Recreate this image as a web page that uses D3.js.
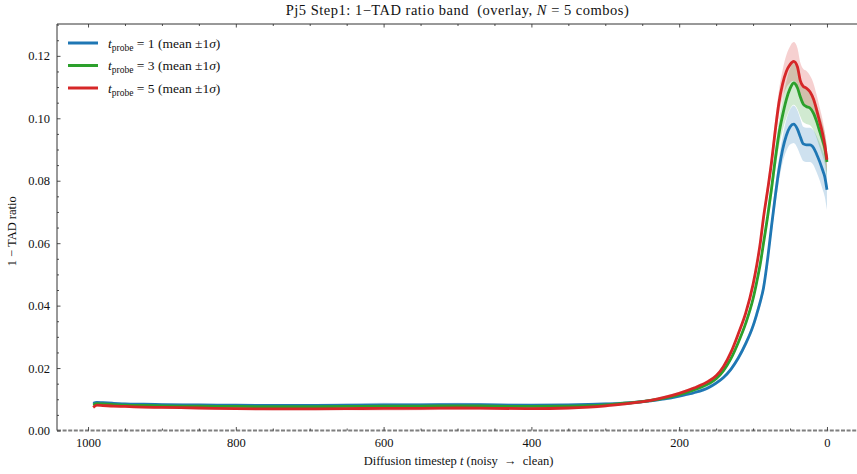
<!DOCTYPE html>
<html>
<head>
<meta charset="utf-8">
<script src="https://cdn.jsdelivr.net/npm/d3@7"></script>
<style>
  html, body { margin: 0; padding: 0; background: #fff; }
  svg { display: block; font-family: "Liberation Serif", "DejaVu Serif", serif; }
</style>
</head>
<body>
<svg id="chart" width="857" height="474"></svg>
<script>
// Diffusion timesteps (noisy -> clean)
const timesteps = [993, 988, 980, 965, 950, 925, 900, 850, 800, 750, 700, 650, 600, 550, 500, 450, 400, 350, 300,
  280, 260, 240, 220, 200, 180, 160, 150, 140, 130, 120, 110, 100, 95, 90, 86, 80, 75, 70, 65, 60, 55, 50, 45, 40,
  36, 32, 28, 23, 18, 14, 10, 6, 3, 0];

// mean 1-TAD ratio per probe setting
const meanProbe1 = [0.0087, 0.0090, 0.0089, 0.0087, 0.0085, 0.0084, 0.0083, 0.0082, 0.0081, 0.0080, 0.0080, 0.0081, 0.0082, 0.0082, 0.0083, 0.0082, 0.0081, 0.0082, 0.0085,
  0.0087, 0.0090, 0.0095, 0.0101, 0.0110, 0.0121, 0.0138, 0.0152, 0.0170, 0.0196, 0.0232, 0.0278, 0.0335, 0.0373, 0.0415, 0.0455, 0.0555, 0.0655, 0.0750, 0.0835, 0.0900, 0.0945, 0.0972, 0.0981, 0.0965,
  0.0940, 0.0918, 0.0915, 0.0915, 0.0905, 0.0885, 0.0862, 0.0835, 0.0813, 0.0771];
const meanProbe3 = [0.0082, 0.0086, 0.0085, 0.0083, 0.0081, 0.0080, 0.0079, 0.0078, 0.0077, 0.0076, 0.0076, 0.0077, 0.0078, 0.0078, 0.0079, 0.0078, 0.0077, 0.0078, 0.0082,
  0.0086, 0.0090, 0.0096, 0.0104, 0.0115, 0.0130, 0.0150, 0.0166, 0.0192, 0.0230, 0.0282, 0.0343, 0.0422, 0.0476, 0.0537, 0.0598, 0.0690, 0.0775, 0.0868, 0.0950, 0.1010, 0.1060, 0.1095, 0.1113, 0.1098,
  0.1068, 0.1045, 0.1038, 0.1033, 0.1015, 0.0990, 0.0960, 0.0930, 0.0905, 0.0860];
const meanProbe5 = [0.0074, 0.0081, 0.0080, 0.0078, 0.0077, 0.0075, 0.0074, 0.0072, 0.0070, 0.0069, 0.0069, 0.0070, 0.0071, 0.0071, 0.0072, 0.0071, 0.0070, 0.0072, 0.0079,
  0.0084, 0.0089, 0.0096, 0.0106, 0.0119, 0.0136, 0.0158, 0.0175, 0.0205, 0.0250, 0.0310, 0.0376, 0.0468, 0.0530, 0.0605, 0.0680, 0.0775, 0.0860, 0.0960, 0.1050, 0.1110, 0.1150, 0.1172, 0.1182, 0.1165,
  0.1120, 0.1102, 0.1097, 0.1085, 0.1060, 0.1027, 0.0990, 0.0952, 0.0915, 0.0867];

// standard deviation across the N = 5 combos
const sdProbe1 = [0.0004, 0.0004, 0.0004, 0.0004, 0.0004, 0.0004, 0.0004, 0.0004, 0.0004, 0.0004, 0.0004, 0.0005, 0.0007, 0.0006, 0.0006, 0.0005, 0.0004, 0.0004, 0.0005,
  0.0005, 0.0005, 0.0005, 0.0005, 0.0005, 0.0005, 0.0006, 0.0006, 0.0006, 0.0007, 0.0008, 0.0010, 0.0012, 0.0014, 0.0016, 0.0018, 0.0022, 0.0027, 0.0032, 0.0037, 0.0042, 0.0050, 0.0056, 0.0060, 0.0060,
  0.0058, 0.0055, 0.0055, 0.0055, 0.0056, 0.0058, 0.0060, 0.0062, 0.0064, 0.0065];
const sdProbe3 = [0.0004, 0.0004, 0.0004, 0.0004, 0.0004, 0.0004, 0.0004, 0.0004, 0.0004, 0.0004, 0.0004, 0.0005, 0.0006, 0.0006, 0.0006, 0.0005, 0.0004, 0.0004, 0.0005,
  0.0005, 0.0005, 0.0005, 0.0005, 0.0005, 0.0005, 0.0006, 0.0006, 0.0006, 0.0007, 0.0008, 0.0010, 0.0012, 0.0014, 0.0016, 0.0019, 0.0024, 0.0030, 0.0036, 0.0042, 0.0050, 0.0058, 0.0065, 0.0070, 0.0068,
  0.0062, 0.0058, 0.0056, 0.0055, 0.0054, 0.0053, 0.0052, 0.0051, 0.0050, 0.0050];
const sdProbe5 = [0.0004, 0.0004, 0.0004, 0.0004, 0.0004, 0.0004, 0.0004, 0.0004, 0.0004, 0.0004, 0.0004, 0.0005, 0.0007, 0.0006, 0.0006, 0.0005, 0.0004, 0.0004, 0.0005,
  0.0005, 0.0005, 0.0005, 0.0005, 0.0005, 0.0005, 0.0006, 0.0006, 0.0006, 0.0007, 0.0008, 0.0010, 0.0012, 0.0015, 0.0018, 0.0021, 0.0025, 0.0030, 0.0035, 0.0040, 0.0045, 0.0052, 0.0058, 0.0062, 0.0060,
  0.0058, 0.0056, 0.0055, 0.0052, 0.0050, 0.0048, 0.0046, 0.0044, 0.0042, 0.0040];

const probeLabels = ["1", "3", "5"];
const probeColors = ["#1f77b4", "#2ca02c", "#d62728"];
const xTicks = [1000, 800, 600, 400, 200, 0];
const yTicks = [0.00, 0.02, 0.04, 0.06, 0.08, 0.10, 0.12];

const seriesList = [
  { label: probeLabels[0], color: probeColors[0], mean: meanProbe1, sd: sdProbe1 },
  { label: probeLabels[1], color: probeColors[1], mean: meanProbe3, sd: sdProbe3 },
  { label: probeLabels[2], color: probeColors[2], mean: meanProbe5, sd: sdProbe5 }
].map(s => ({ ...s, points: timesteps.map((t, i) => ({ t, m: s.mean[i], s: s.sd[i] })) }));

const svg = d3.select("#chart");
const plot = { left: 57, right: 858, top: 24, bottom: 430.5 };

const x = d3.scaleLinear().domain([1042, -42]).range([plot.left, plot.right]);
const y = d3.scaleLinear().domain([0, 0.1302]).range([plot.bottom, plot.top]);

svg.append("defs").append("clipPath").attr("id", "plotClip")
  .append("rect")
  .attr("x", plot.left).attr("y", plot.top)
  .attr("width", plot.right - plot.left).attr("height", plot.bottom - plot.top);

const body = svg.append("g").attr("clip-path", "url(#plotClip)");

// ±1σ bands
const band = d3.area()
  .x(d => x(d.t))
  .y0(d => y(d.m - d.s))
  .y1(d => y(d.m + d.s))
  .curve(d3.curveMonotoneX);
body.selectAll("path.band").data(seriesList).join("path")
  .attr("class", "band")
  .attr("d", d => band(d.points))
  .attr("fill", d => d.color)
  .attr("fill-opacity", 0.22)
  .attr("stroke", "none");

// mean lines
const line = d3.line()
  .x(d => x(d.t))
  .y(d => y(d.m))
  .curve(d3.curveMonotoneX);
body.selectAll("path.mean").data(seriesList).join("path")
  .attr("class", "mean")
  .attr("d", d => line(d.points))
  .attr("fill", "none")
  .attr("stroke", d => d.color)
  .attr("stroke-width", 2.8)
  .attr("stroke-linejoin", "round")
  .attr("stroke-linecap", "butt");

// zero reference line
svg.append("line")
  .attr("x1", plot.left).attr("x2", plot.right)
  .attr("y1", y(0)).attr("y2", y(0))
  .attr("stroke", "#7f7f7f")
  .attr("stroke-width", 1.8)
  .attr("stroke-dasharray", "4,1.6");

// axes with inward ticks (major + minor)
const tickStyle = g => {
  g.select(".domain").remove();
  g.selectAll("line").attr("stroke", "#222").attr("stroke-width", 0.8);
  g.selectAll("text").attr("font-family", "'Liberation Serif', serif").attr("font-size", 12.5).attr("fill", "#111");
};

const xMinor = d3.range(0, 1050, 50).filter(v => !xTicks.includes(v));
const yMinor = d3.range(0, 0.1301, 0.005).filter(v => !yTicks.some(t => Math.abs(t - v) < 1e-9));

// bottom
svg.append("g").attr("transform", `translate(0,${plot.bottom})`)
  .call(d3.axisBottom(x).tickValues(xTicks).tickSize(-3.5).tickPadding(8).tickFormat(d3.format("d")))
  .call(tickStyle);
svg.append("g").attr("transform", `translate(0,${plot.bottom})`)
  .call(d3.axisBottom(x).tickValues(xMinor).tickSize(-2).tickFormat(""))
  .call(tickStyle);
// top
svg.append("g").attr("transform", `translate(0,${plot.top})`)
  .call(d3.axisTop(x).tickValues(xTicks).tickSize(-3.5).tickFormat(""))
  .call(tickStyle);
svg.append("g").attr("transform", `translate(0,${plot.top})`)
  .call(d3.axisTop(x).tickValues(xMinor).tickSize(-2).tickFormat(""))
  .call(tickStyle);
// left
svg.append("g").attr("transform", `translate(${plot.left},0)`)
  .call(d3.axisLeft(y).tickValues(yTicks).tickSize(-3.5).tickPadding(7).tickFormat(d3.format(".2f")))
  .call(tickStyle);
svg.append("g").attr("transform", `translate(${plot.left},0)`)
  .call(d3.axisLeft(y).tickValues(yMinor).tickSize(-2).tickFormat(""))
  .call(tickStyle);

// spines
svg.append("line").attr("x1", plot.left).attr("x2", plot.left).attr("y1", plot.top).attr("y2", plot.bottom)
  .attr("stroke", "#333").attr("stroke-width", 1);
svg.append("line").attr("x1", plot.left).attr("x2", plot.right).attr("y1", plot.top).attr("y2", plot.top)
  .attr("stroke", "#333").attr("stroke-width", 1);
svg.append("line").attr("x1", plot.right).attr("x2", plot.right).attr("y1", plot.top).attr("y2", plot.bottom)
  .attr("stroke", "#333").attr("stroke-width", 1);

// title
const title = svg.append("text")
  .attr("x", (plot.left + plot.right) / 2).attr("y", 14.5)
  .attr("text-anchor", "middle")
  .attr("font-size", 14.5).attr("letter-spacing", 0.5).attr("fill", "#111");
title.append("tspan").text("Pj5 Step1: 1\u2212TAD ratio band\u00a0\u00a0(overlay, ");
title.append("tspan").attr("font-style", "italic").text("N");
title.append("tspan").text(" = 5 combos)");

// axis labels
const xl = svg.append("text")
  .attr("x", (plot.left + plot.right) / 2 + 1).attr("y", 465)
  .attr("text-anchor", "middle").attr("font-size", 12.5).attr("fill", "#111");
xl.append("tspan").text("Diffusion timestep ");
xl.append("tspan").attr("font-style", "italic").text("t");
xl.append("tspan").text(" (noisy \u00a0\u2192\u00a0 clean)");

svg.append("text")
  .attr("transform", `translate(16,${(plot.top + plot.bottom) / 2 + 4}) rotate(-90)`)
  .attr("text-anchor", "middle").attr("font-size", 12.5).attr("fill", "#111")
  .text("1 \u2212 TAD ratio");

// legend
const legend = svg.append("g");
seriesList.forEach((s, i) => {
  const ly = 43 + i * 22.5;
  legend.append("line")
    .attr("x1", 68).attr("x2", 98).attr("y1", ly).attr("y2", ly)
    .attr("stroke", s.color).attr("stroke-width", 3);
  const txt = legend.append("text")
    .attr("x", 108).attr("y", ly + 4.5)
    .attr("font-size", 13.5).attr("fill", "#111");
  txt.append("tspan").attr("font-style", "italic").text("t");
  txt.append("tspan").attr("font-size", 9.5).attr("dy", 3).text("probe");
  txt.append("tspan").attr("dy", -3).text(" = " + s.label + " (mean \u00b11");
  txt.append("tspan").attr("font-style", "italic").text("\u03c3");
  txt.append("tspan").text(")");
});
</script>
</body>
</html>
